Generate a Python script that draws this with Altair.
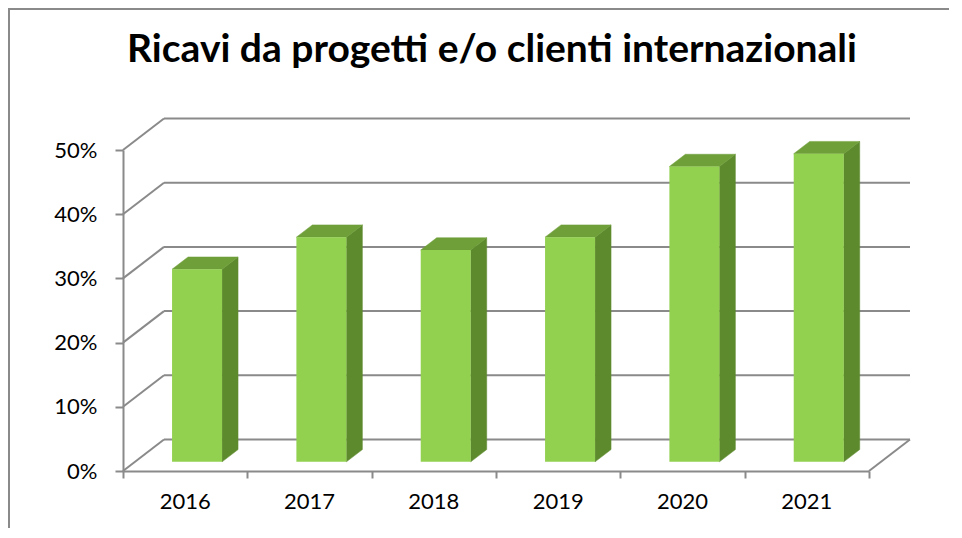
import altair as alt
import pandas as pd

# ---- data ----
years = ["2016", "2017", "2018", "2019", "2020", "2021"]
values = [0.30, 0.35, 0.33, 0.35, 0.46, 0.48]
y_ticks = [0.0, 0.1, 0.2, 0.3, 0.4, 0.5]
title_text = "Ricavi da progetti e/o clienti internazionali"

# ---- layout / style constants ----
W, H = 746, 321
X_MAX, Y_MAX = len(years), 0.5
PX_X = X_MAX / W          # data units per pixel (x)
PX_Y = Y_MAX / H          # data units per pixel (y)
WALL_DX, WALL_DY = 41, 31.5   # oblique depth of the 3-D box, px
FRONT_D, BACK_D = 0.29, 0.68  # bar depth position (fraction of box depth)
BAR_W = 50

wdx, wdy = WALL_DX * PX_X, WALL_DY * PX_Y
fdx, fdy = FRONT_D * wdx, FRONT_D * wdy
ddx, ddy = (BACK_D - FRONT_D) * wdx, (BACK_D - FRONT_D) * wdy
half = BAR_W / 2 * PX_X

GRID = "#8A8A8A"
FRONT = "#92D050"
SIDE = "#5E8A2E"
TOP = "#6E9F38"
FONT = "Lato"

bars = pd.DataFrame({"year": years, "value": values, "idx": list(range(len(years)))})
grid = pd.DataFrame({"v": y_ticks})
one = pd.DataFrame({"t": [title_text]})

xs = alt.Scale(domain=[0, X_MAX], nice=False, zero=False)
ys = alt.Scale(domain=[0, Y_MAX], nice=False)

x_axis = alt.Axis(values=list(range(X_MAX + 1)), labels=False, tickSize=7, tickColor=GRID,
                  tickWidth=2, domainColor=GRID, domainWidth=2, grid=False, title=None)
y_axis = alt.Axis(values=y_ticks, format=".0%", tickSize=8, tickColor=GRID, tickWidth=2,
                  domainColor=GRID, domainWidth=2, labelFont=FONT, labelFontSize=22,
                  labelColor="black", labelPadding=18, grid=False, title=None)


def X(f):
    return alt.X(f, scale=xs, axis=x_axis)


def Y(f):
    return alt.Y(f, scale=ys, axis=y_axis)


# diagonal gridlines on the left wall
diag = alt.Chart(grid).transform_calculate(
    x0="0", x1=f"{wdx}", y1=f"datum.v + {wdy}"
).mark_rule(color=GRID, strokeWidth=2).encode(
    x=X("x0:Q"), x2="x1:Q", y=Y("v:Q"), y2="y1:Q",
)

# horizontal gridlines on the back wall
back = alt.Chart(grid).transform_calculate(
    x0=f"{wdx}", x1=f"{X_MAX + wdx}", y1=f"datum.v + {wdy}"
).mark_rule(color=GRID, strokeWidth=2).encode(
    x=X("x0:Q"), x2="x1:Q", y=Y("y1:Q"),
)

# right floor edge
floor_r = alt.Chart(grid).transform_filter("datum.v == 0").transform_calculate(
    x0=f"{X_MAX}", x1=f"{X_MAX + wdx}", y1=f"{wdy}"
).mark_rule(color=GRID, strokeWidth=2).encode(
    x=X("x0:Q"), x2="x1:Q", y=Y("v:Q"), y2="y1:Q",
)

base_calc = dict(
    xl=f"datum.idx + 0.5 - {half} + {fdx}",
    xr=f"datum.idx + 0.5 + {half} + {fdx}",
    T=f"datum.value + {fdy}",
    B=f"{fdy}",
)

# side faces
side = alt.Chart(bars).transform_calculate(**base_calc).transform_calculate(
    k="[0, 1]"
).transform_flatten(["k"]).transform_calculate(
    sx=f"datum.xr + datum.k * {ddx}",
    st=f"datum.T + datum.k * {ddy}",
    sb=f"datum.B + datum.k * {ddy}",
).mark_area(color=SIDE, orient="vertical", stroke=SIDE, strokeWidth=0.5).encode(
    x=X("sx:Q"), y=Y("st:Q"), y2="sb:Q", detail="year:N",
)

# top faces
top = alt.Chart(bars).transform_calculate(**base_calc).transform_calculate(
    k="[0, 1, 2, 3]"
).transform_flatten(["k"]).transform_calculate(
    tx=f"datum.k == 0 ? datum.xl : datum.k == 1 ? datum.xl + {ddx} : datum.k == 2 ? datum.xr : datum.xr + {ddx}",
    tu=f"datum.k == 0 ? datum.T : datum.T + {ddy}",
    tl=f"datum.k == 3 ? datum.T + {ddy} : datum.T",
).mark_area(color=TOP, orient="vertical", stroke=TOP, strokeWidth=0.5).encode(
    x=X("tx:Q"), y=Y("tu:Q"), y2="tl:Q", detail="year:N",
)

# front faces
front = alt.Chart(bars).transform_calculate(**base_calc).mark_rect(color=FRONT).encode(
    x=X("xl:Q"), x2="xr:Q", y=Y("T:Q"), y2="B:Q",
)

# category labels
labels = alt.Chart(bars).transform_calculate(xc="datum.idx + 0.5").mark_text(
    font=FONT, fontSize=22, color="black", baseline="middle", align="center"
).encode(
    x=X("xc:Q"), y=alt.value(H + 31), text="year:N",
)

title = alt.Chart(one).mark_text(
    font=FONT, fontSize=39, fontWeight="bold", color="black", align="center", baseline="alphabetic"
).encode(x=alt.value(369), y=alt.value(-88), text="t:N")

frame_top = alt.Chart(one).mark_rule(color="#8A8A8A", strokeWidth=2).encode(
    x=alt.value(-116), x2=alt.value(W + 120), y=alt.value(-141)
)
frame_left = alt.Chart(one).mark_rule(color="#8A8A8A", strokeWidth=2).encode(
    x=alt.value(-114), y=alt.value(-142), y2=alt.value(H + 80)
)

chart = alt.layer(
    diag, back, floor_r, side, top, front, labels, title, frame_top, frame_left
).properties(
    width=W, height=H,
    padding={"left": 115, "top": 142, "right": 80, "bottom": 57},
    autosize=alt.AutoSizeParams(type="none"),
).configure_view(stroke=None)

chart.save("out.html", embed_options={"renderer": "svg", "actions": False})
